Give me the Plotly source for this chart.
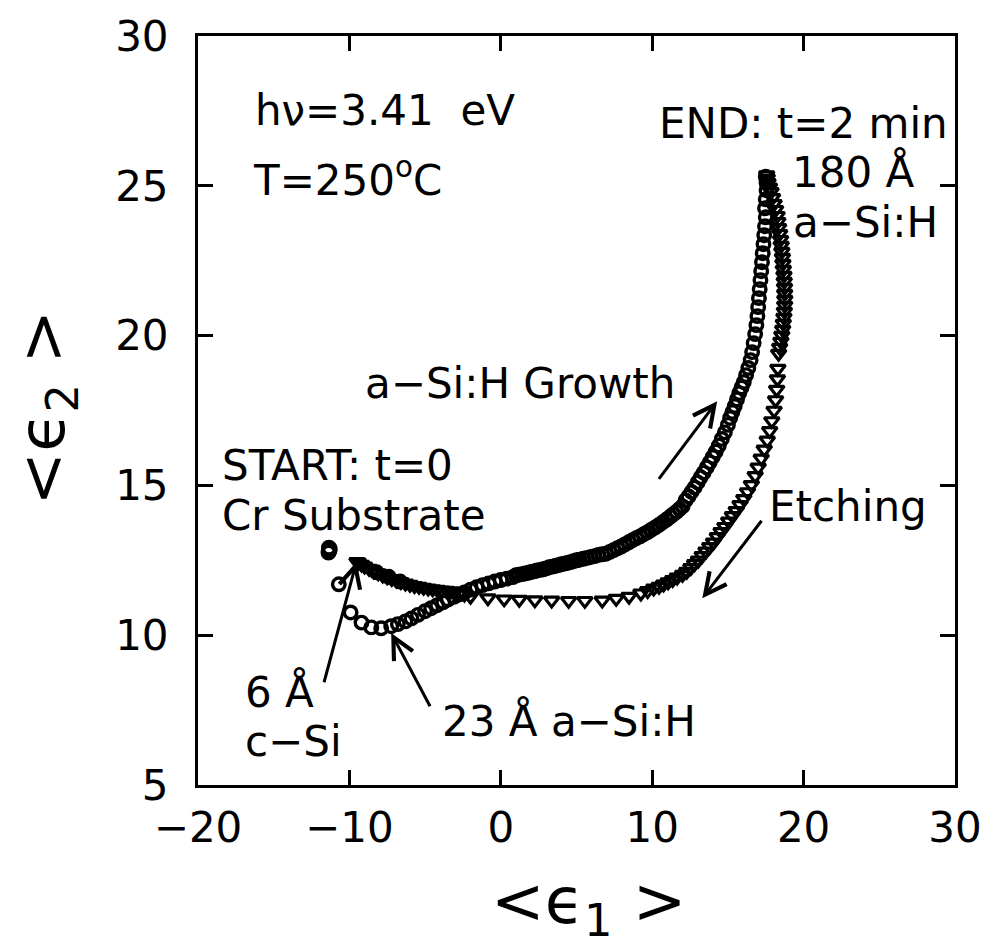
import plotly.graph_objects as go

# Pseudo-dielectric function trajectory at h·nu = 3.41 eV, T = 250 C
# Growth of a-Si:H on a Cr substrate (circles), then etching back (triangles)

growth_e1 = [
    -11.35, -11.32, -11.38, -11.30, -11.36,
    -10.70, -9.92,
    -9.20, -8.55, -7.90, -7.24, -6.80, -6.30, -5.90, -5.47, -5.00, -4.60, -4.20,
    -3.80, -3.50, -3.10, -2.75, -2.40, -2.00, -1.60, -1.20, -0.80, -0.40, 0.00,
    0.40, 0.80,
    1.00, 1.20, 1.40, 1.60, 1.80, 2.00, 2.20, 2.40, 2.60, 2.80, 3.00, 3.20, 3.40,
    3.60, 3.80, 4.00, 4.20, 4.40, 4.60, 4.80, 5.00, 5.20, 5.45, 5.70, 5.95, 6.20,
    6.45, 6.70, 6.95, 7.20, 7.45, 7.70, 7.95, 8.20, 8.45, 8.70, 8.95, 9.20, 9.45,
    9.70, 9.95, 10.20, 10.45, 10.70, 10.95, 11.20, 11.40, 11.60, 11.80, 12.00,
    12.20, 12.40, 12.60, 12.80, 13.00, 13.20, 13.40, 13.60, 13.80, 14.00, 14.20,
    14.40, 14.60, 14.80, 15.00, 15.15, 15.30, 15.45, 15.60, 15.75, 15.90, 16.05,
    16.20, 16.35, 16.50, 16.60, 16.70, 16.80, 16.88, 16.95, 17.00, 17.05, 17.10,
    17.15, 17.20, 17.25, 17.30, 17.35, 17.40, 17.45, 17.50, 17.45, 17.50, 17.55,
    17.55, 17.50,
]
growth_e2 = [
    12.92, 12.82, 12.76, 12.88, 12.80,
    11.70, 10.76,
    10.42, 10.26, 10.23, 10.30, 10.37, 10.46, 10.56, 10.68, 10.80, 10.90, 11.00,
    11.10, 11.19, 11.28, 11.36, 11.43, 11.52, 11.60, 11.67, 11.73, 11.79, 11.84,
    11.89, 11.94,
    12.00, 12.02, 12.04, 12.06, 12.08, 12.11, 12.13, 12.16, 12.18, 12.20, 12.23,
    12.27, 12.29, 12.31, 12.34, 12.37, 12.39, 12.41, 12.44, 12.47, 12.50, 12.52,
    12.55, 12.58, 12.61, 12.64, 12.68, 12.70, 12.72, 12.78, 12.84, 12.90, 12.96,
    13.03, 13.10, 13.17, 13.24, 13.30, 13.37, 13.44, 13.52, 13.60, 13.68, 13.77,
    13.86, 13.96, 14.04, 14.12, 14.21, 14.30, 14.50, 14.63, 14.78, 14.93, 15.10,
    15.27, 15.43, 15.60, 15.77, 15.95, 16.13, 16.33, 16.55, 16.77, 17.02, 17.25,
    17.45, 17.65, 17.87, 18.08, 18.27, 18.45, 18.68, 18.92, 19.18, 19.45, 19.75,
    20.05, 20.35, 20.65, 20.95, 21.25, 21.55, 21.85, 22.15, 22.45, 22.75, 23.05,
    23.35, 23.65, 23.95, 24.25, 24.55, 24.85, 25.10, 25.30,
]

# a few open circles sitting on the c-Si branch next to the 6 A point
interface_e1 = [-8.20, -7.40, -6.65]
interface_e2 = [12.10, 11.95, 11.79]

etch_e1 = [
    17.56, 17.60, 17.65, 17.75, 17.85, 17.95, 18.05, 18.15, 18.25, 18.30, 18.35,
    18.42, 18.48, 18.52, 18.56, 18.60, 18.63, 18.66, 18.70, 18.72, 18.74, 18.75,
    18.76, 18.75, 18.73, 18.70, 18.66, 18.62, 18.56, 18.50, 18.42, 18.35,
    18.30, 18.27, 18.22, 18.15, 18.05, 17.90, 17.76, 17.60, 17.40, 17.20, 17.00,
    16.80, 16.55, 16.30, 16.05, 15.80, 15.55, 15.30, 15.05, 14.80, 14.55, 14.30,
    14.05, 13.80, 13.55, 13.30, 13.05, 12.80, 12.55, 12.28, 12.00, 11.65, 11.35,
    11.05, 10.75, 10.45, 10.10, 9.70, 9.25, 8.47, 7.62, 6.70, 5.55, 4.48, 3.36,
    2.25, 1.22, 0.22, -0.85, -2.00,
    -2.40, -2.70, -3.00, -3.30, -3.60, -3.90, -4.20, -4.50, -4.80, -5.10, -5.40,
    -5.70, -6.00, -6.30, -6.60, -6.90, -7.20, -7.50, -7.80, -8.10, -8.40, -8.70,
    -9.00, -9.20, -9.40, -9.50,
]
etch_e2 = [
    25.36, 25.25, 25.10, 24.95, 24.80, 24.60, 24.40, 24.20, 24.00, 23.80, 23.60,
    23.40, 23.20, 23.00, 22.80, 22.60, 22.40, 22.20, 22.00, 21.80, 21.60, 21.40,
    21.20, 21.00, 20.80, 20.60, 20.40, 20.20, 20.00, 19.80, 19.60, 19.40,
    18.90, 18.55, 18.20, 17.85, 17.50, 17.15, 16.82, 16.50, 16.20, 15.90, 15.60,
    15.32, 15.02, 14.78, 14.55, 14.35, 14.15, 13.98, 13.80, 13.62, 13.45, 13.28,
    13.10, 12.95, 12.80, 12.65, 12.50, 12.38, 12.25, 12.12, 12.02, 11.93, 11.85,
    11.77, 11.70, 11.62, 11.56, 11.48, 11.40, 11.29, 11.22, 11.16, 11.15, 11.15,
    11.16, 11.17, 11.19, 11.20, 11.24, 11.29,
    11.36, 11.41, 11.44, 11.47, 11.49, 11.50, 11.52, 11.54, 11.56, 11.59, 11.62,
    11.65, 11.69, 11.73, 11.78, 11.83, 11.88, 11.94, 12.00, 12.07, 12.14, 12.22,
    12.30, 12.36, 12.42, 12.45,
]

x_ticks = [-20, -10, 0, 10, 20, 30]
y_ticks = [5, 10, 15, 20, 25, 30]

FONT = "DejaVu Sans"
INK = "black"

fig = go.Figure()

circle_style = dict(symbol="circle-open", size=12.5, color=INK, line=dict(width=3.4, color=INK))
fig.add_trace(go.Scatter(x=growth_e1, y=growth_e2, mode="markers",
                         name="a-Si:H growth", marker=circle_style))
fig.add_trace(go.Scatter(x=interface_e1, y=interface_e2, mode="markers",
                         name="c-Si", marker=circle_style))
fig.add_trace(go.Scatter(
    x=etch_e1, y=etch_e2, mode="markers", name="etching",
    marker=dict(symbol="triangle-down-open", size=13, color=INK, line=dict(width=3.2, color=INK)),
))

axis_common = dict(
    ticks="inside", ticklen=15, tickwidth=3, tickcolor=INK,
    showline=True, linewidth=3, linecolor=INK, mirror="ticks",
    showgrid=False, zeroline=False,
    tickfont=dict(family=FONT, size=42, color=INK),
)
fig.update_xaxes(range=[-20, 30], tickvals=x_ticks, ticklabelstandoff=4, **axis_common)
fig.update_yaxes(range=[5, 30], tickvals=y_ticks, ticklabelstandoff=18, **axis_common)

txt = dict(family=FONT, size=42, color=INK)
labels = [
    ("h\u03bd=3.41&nbsp; eV", -16.4, 27.5, "left"),
    ("T=250<sup>o</sup>C", -16.47, 25.28, "left"),
    ("END: t=2 min", 29.67, 27.08, "right"),
    ("180 \u00c5", 19.07, 25.45, "left"),
    ("a\u2212Si:H", 19.2, 23.76, "left"),
    ("a\u2212Si:H Growth", -9.07, 18.4, "left"),
    ("START: t=0", -18.56, 15.68, "left"),
    ("Cr Substrate", -18.56, 14.0, "left"),
    ("6 \u00c5", -17.05, 8.1, "left"),
    ("c\u2212Si", -17.05, 6.45, "left"),
    ("23 \u00c5 a\u2212Si:H", -4.03, 7.12, "left"),
    ("Etching", 17.57, 14.3, "left"),
]
for text, x, y, anchor in labels:
    fig.add_annotation(x=x, y=y, xref="x", yref="y", text=text, showarrow=False,
                       xanchor=anchor, yanchor="middle", font=txt)

# pointer arrows: (head x, head y, tail x, tail y)
arrows = [
    (-9.53, 12.45, -11.7, 8.38),
    (-7.24, 10.07, -4.62, 7.58),
    (14.29, 17.81, 10.37, 15.17),
    (13.31, 11.23, 17.3, 13.87),
]
for hx, hy, tx, ty in arrows:
    fig.add_annotation(x=hx, y=hy, ax=tx, ay=ty, xref="x", yref="y", axref="x", ayref="y",
                       text="", showarrow=True, arrowhead=5, arrowsize=1.4,
                       arrowwidth=3, arrowcolor=INK, standoff=0, startstandoff=0)

# axis titles
fig.add_annotation(x=(592 - 198) / 764, y=(785 - 906) / 755, xref="paper", yref="paper",
                   text="&lt;\u03f5<sub>1</sub> &gt;", showarrow=False,
                   xanchor="center", yanchor="middle",
                   font=dict(family=FONT, size=64, color=INK))
fig.add_annotation(x=(45 - 198) / 764, y=(785 - 405) / 755, xref="paper", yref="paper",
                   text="&lt;\u03f5<sub>2</sub> &gt;", showarrow=False, textangle=-90,
                   xanchor="center", yanchor="middle",
                   font=dict(family=FONT, size=64, color=INK))

fig.update_layout(
    width=994, height=951,
    margin=dict(l=198, r=32, t=30, b=166),
    plot_bgcolor="white", paper_bgcolor="white",
    showlegend=False,
    font=dict(family=FONT, color=INK),
)

fig.write_html("out.html")
